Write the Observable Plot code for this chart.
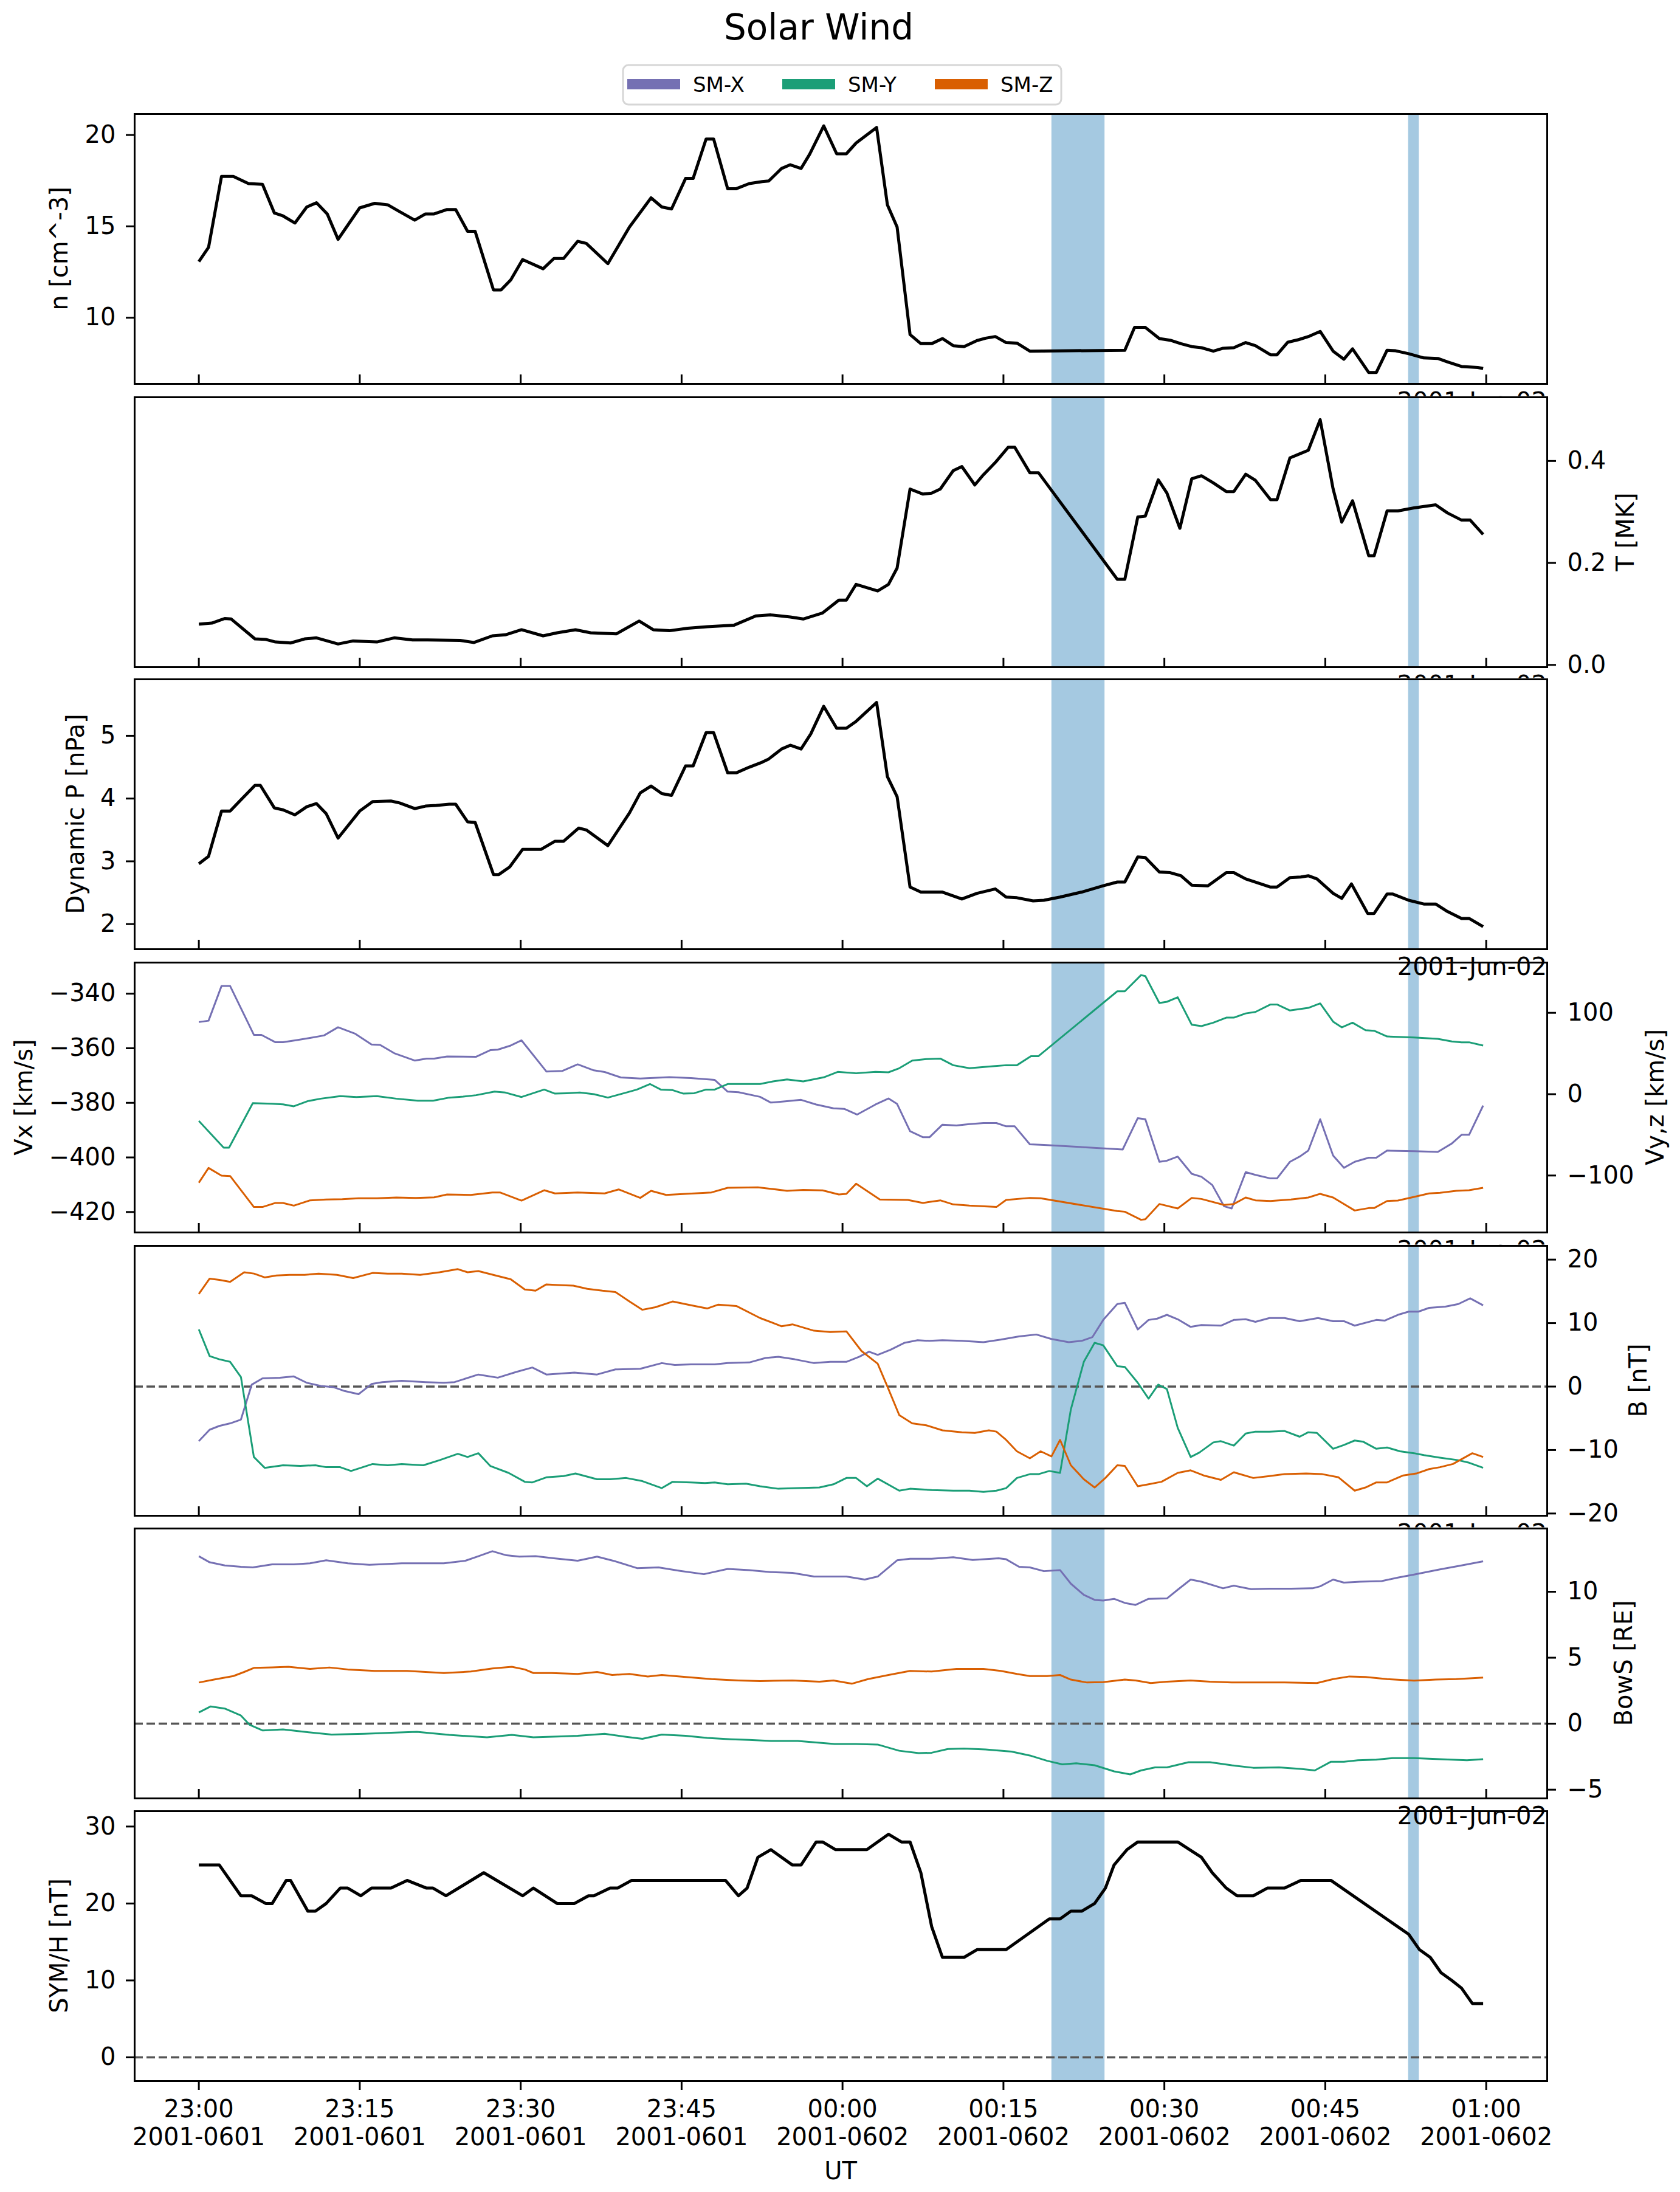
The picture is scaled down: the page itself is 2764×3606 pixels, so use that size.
<!DOCTYPE html>
<html>
<head>
<meta charset="utf-8">
<script src="https://cdn.jsdelivr.net/npm/d3@7"></script>
<script src="https://cdn.jsdelivr.net/npm/@observablehq/plot@0.6"></script>
<style>
  body { margin: 0; background: #fff; }
  #wrap { position: relative; width: 2764px; height: 3606px; background: #fff; font-family: "DejaVu Sans", sans-serif; }
  #wrap svg { position: absolute; left: 0; overflow: visible; max-width: none; }
</style>
</head>
<body>
<div id="wrap"></div>
<script>
// ---------------- DATA (minutes after 2001-06-01 23:00 UT as read, value) ----------------
const xTickMinutes = [0, 15, 30, 45, 60, 75, 90, 105, 120];
const xTickTimeLabels = ["23:00", "23:15", "23:30", "23:45", "00:00", "00:15", "00:30", "00:45", "01:00"];
const xTickDayLabels = ["2001-0601", "2001-0601", "2001-0601", "2001-0601", "2001-0602", "2001-0602", "2001-0602", "2001-0602", "2001-0602"];
const shadedSpans = [[79.5, 84.45], [112.75, 113.75]];
const componentNames = ["SM-X", "SM-Y", "SM-Z"];
const offsetLabel = "2001-Jun-02";

const densityPts = [[0,13.07],[0.9,13.85],[2.1,17.73],[3.2,17.73],[4.6,17.34],[5.9,17.3],[7.0,15.73],[7.8,15.57],[8.9,15.18],[10,16.06],[10.9,16.29],[11.9,15.68],[12.9,14.29],[14.9,16.01],[16.3,16.26],[17.5,16.18],[18.5,15.84],[20,15.34],[21,15.68],[21.8,15.68],[23,15.92],[23.8,15.92],[24.9,14.73],[25.6,14.73],[27.3,11.52],[28,11.52],[28.9,12.07],[30,13.18],[31.9,12.68],[32.9,13.24],[33.8,13.24],[35.1,14.18],[35.9,14.07],[37.9,12.96],[39.9,14.96],[41.9,16.56],[42.9,16.06],[43.8,15.95],[45.1,17.62],[45.8,17.62],[47,19.78],[47.7,19.78],[49,17.06],[49.8,17.06],[51,17.34],[52.2,17.45],[52.8,17.48],[54,18.17],[54.8,18.37],[55.8,18.17],[56.6,18.95],[57.9,20.5],[59.1,18.97],[60,18.97],[60.9,19.56],[62.8,20.41],[63.8,16.18],[64.7,14.96],[65.9,9.08],[66.9,8.58],[67.9,8.58],[68.9,8.86],[69.9,8.47],[70.9,8.42],[72.1,8.75],[72.9,8.88],[73.8,8.97],[74.8,8.64],[75.8,8.61],[77,8.17],[85.8,8.22],[86.7,9.47],[87.7,9.47],[89,8.86],[90,8.77],[91,8.58],[92,8.42],[92.9,8.36],[94,8.17],[94.9,8.33],[95.9,8.36],[97,8.64],[97.9,8.47],[99.3,7.97],[99.9,7.97],[100.9,8.66],[101.9,8.8],[102.9,8.99],[103.9,9.25],[105.1,8.17],[106.1,7.73],[106.9,8.3],[108.4,7.0],[109.1,7.0],[110.1,8.22],[110.9,8.19],[112.1,8.03],[113.5,7.8],[114.8,7.77],[115.7,7.58],[117,7.33],[118.5,7.28],[119,7.22]];

const tempPts = [[0,0.080],[1.2,0.082],[2.4,0.091],[3.0,0.090],[5.2,0.051],[6.2,0.050],[7.1,0.045],[8.5,0.043],[9.8,0.051],[10.9,0.053],[12.9,0.041],[14.3,0.047],[16.5,0.045],[18.1,0.053],[19.8,0.049],[21.2,0.049],[24.2,0.048],[25.5,0.044],[27.2,0.057],[28.4,0.059],[29.9,0.069],[31.9,0.057],[33.2,0.063],[34.9,0.069],[36.3,0.063],[38.7,0.061],[40.8,0.086],[42.1,0.069],[43.6,0.067],[45.3,0.072],[47.1,0.075],[49.6,0.078],[51.6,0.096],[53.0,0.098],[54.8,0.094],[56.0,0.090],[57.8,0.102],[59.3,0.127],[60.0,0.127],[60.9,0.158],[62.9,0.145],[63.9,0.158],[64.7,0.190],[65.9,0.345],[67.1,0.335],[67.9,0.337],[68.7,0.345],[69.9,0.381],[70.7,0.389],[71.9,0.353],[72.7,0.373],[73.8,0.397],[75.0,0.427],[75.6,0.427],[77.0,0.377],[77.8,0.377],[85.1,0.168],[85.8,0.168],[87.0,0.290],[87.7,0.292],[88.9,0.363],[89.7,0.337],[90.9,0.268],[92.0,0.365],[92.9,0.371],[94.0,0.357],[95.2,0.340],[95.9,0.340],[97.0,0.374],[97.9,0.362],[99.3,0.324],[99.9,0.324],[101.1,0.406],[101.9,0.413],[102.8,0.421],[103.9,0.481],[105.1,0.345],[105.9,0.280],[106.9,0.322],[108.4,0.214],[108.9,0.214],[110.1,0.302],[111.1,0.302],[112.6,0.308],[114.6,0.314],[115.7,0.298],[117.0,0.284],[117.8,0.284],[119.0,0.256]];

const pressurePts = [[0,2.96],[0.9,3.08],[2.1,3.80],[2.9,3.80],[3.9,3.98],[5.2,4.21],[5.7,4.21],[7.0,3.85],[7.8,3.82],[8.9,3.74],[10.0,3.87],[10.9,3.92],[11.8,3.76],[12.9,3.37],[14.9,3.80],[16.1,3.95],[17.8,3.96],[18.6,3.93],[20.0,3.84],[21.0,3.88],[22.0,3.89],[23.2,3.91],[23.8,3.91],[24.9,3.63],[25.6,3.62],[27.3,2.79],[27.8,2.79],[28.8,2.91],[30.0,3.19],[31.7,3.19],[33.0,3.32],[33.8,3.32],[35.2,3.53],[35.9,3.50],[37.9,3.25],[39.9,3.77],[40.9,4.09],[41.9,4.20],[42.9,4.08],[43.8,4.05],[45.1,4.52],[45.8,4.52],[47.0,5.05],[47.7,5.05],[49.0,4.41],[49.8,4.41],[51.0,4.50],[52.2,4.58],[52.8,4.63],[54.0,4.79],[54.8,4.85],[55.8,4.79],[56.7,5.03],[57.9,5.47],[59.1,5.12],[60.0,5.12],[60.9,5.23],[62.8,5.53],[63.8,4.35],[64.7,4.03],[65.9,2.59],[66.9,2.51],[68.9,2.51],[70.7,2.40],[72.1,2.49],[73.8,2.56],[74.8,2.43],[75.8,2.42],[77.3,2.37],[78.3,2.38],[79.8,2.43],[81.8,2.51],[83.8,2.61],[85.1,2.67],[85.8,2.67],[87.0,3.07],[87.7,3.06],[89.0,2.83],[90.0,2.82],[91.0,2.77],[92.0,2.62],[93.5,2.61],[95.2,2.82],[95.9,2.82],[97.0,2.72],[97.9,2.67],[99.3,2.59],[99.9,2.59],[101.1,2.74],[102.1,2.75],[102.8,2.77],[103.6,2.72],[105.1,2.49],[105.9,2.41],[106.8,2.64],[108.3,2.17],[108.9,2.17],[110.1,2.48],[110.6,2.48],[112.1,2.38],[113.5,2.32],[114.6,2.32],[115.7,2.20],[117.0,2.09],[117.7,2.09],[119.0,1.96]];

const vxPts = [[0,-350.4],[0.9,-349.9],[2.1,-337.2],[2.9,-337.2],[5.1,-355.1],[5.8,-355.1],[7.1,-357.8],[7.8,-357.8],[9.1,-357.0],[10.3,-356.2],[11.6,-355.3],[12.9,-352.3],[14.5,-354.7],[16.0,-358.6],[16.8,-358.8],[18.1,-361.8],[20.0,-364.5],[21.1,-363.8],[21.8,-363.8],[23.0,-363.0],[25.7,-363.1],[27.0,-360.7],[27.7,-360.5],[28.9,-359.0],[29.9,-357.1],[32.2,-368.5],[33.7,-368.3],[35.1,-365.9],[36.6,-368.1],[37.6,-368.7],[39.1,-370.7],[40.9,-371.1],[43.6,-370.6],[45.6,-370.9],[47.8,-371.6],[49.0,-375.9],[50.0,-376.1],[52.0,-377.8],[53.0,-379.9],[54.5,-379.4],[55.8,-378.9],[57.2,-380.6],[58.8,-382.0],[59.8,-382.2],[61.0,-384.3],[62.7,-380.6],[63.9,-378.4],[64.7,-380.4],[65.9,-390.4],[67.1,-392.6],[67.7,-392.6],[68.9,-388.0],[70.2,-388.3],[71.4,-387.8],[72.7,-387.4],[73.9,-387.4],[74.8,-388.6],[75.6,-388.6],[77.0,-395.2],[78.3,-395.4],[85.6,-397.1],[87.0,-385.6],[87.7,-386.0],[89.0,-401.6],[89.7,-401.2],[90.7,-399.7],[92.0,-406.0],[92.9,-407.1],[93.9,-410.1],[95.0,-417.9],[95.7,-418.7],[97.0,-405.4],[97.9,-406.4],[99.3,-407.7],[99.9,-407.7],[101.1,-401.6],[102.0,-399.7],[102.8,-397.5],[103.9,-386.0],[105.1,-399.3],[106.1,-403.8],[107.1,-401.6],[108.4,-400.1],[109.1,-400.1],[110.1,-397.5],[112.6,-397.7],[114.8,-398.0],[116.1,-394.9],[117.0,-391.7],[117.7,-391.7],[119.0,-381.0]];

const vyPts = [[0,-32.9],[2.3,-65.8],[2.8,-65.8],[5.0,-11.0],[6.8,-11.7],[7.8,-12.5],[8.8,-14.9],[10.1,-8.5],[11.3,-5.5],[13.1,-2.5],[14.6,-3.5],[16.5,-2.5],[18.3,-5.5],[20.3,-8.0],[21.7,-8.0],[23.2,-4.2],[24.5,-3.0],[25.7,-1.2],[27.4,3.2],[28.4,2.0],[29.9,-3.5],[32.0,5.7],[33.0,0.7],[34.1,1.2],[35.3,2.0],[36.6,0],[37.9,-4.2],[39.6,2.0],[40.6,5.7],[41.8,12.5],[42.8,5.7],[43.9,5.0],[44.9,0.7],[45.9,1.2],[47.0,5.7],[47.8,5.7],[49.0,12.5],[52.0,12.5],[53.2,15.7],[54.5,18.2],[56.0,15.7],[57.9,20.7],[59.2,27.4],[60.9,25.7],[62.7,27.4],[63.9,26.9],[64.9,31.9],[66.1,41.3],[67.4,43.1],[68.7,43.8],[69.9,35.6],[71.4,31.9],[73.6,34.4],[74.8,35.6],[75.8,35.6],[77.1,46.8],[77.8,46.8],[85.1,126.5],[85.8,126.5],[87.3,146.4],[87.7,145.2],[89.0,112.1],[89.7,113.6],[90.7,119.1],[92.0,85.4],[92.9,83.7],[94.0,87.9],[95.2,94.1],[95.9,94.1],[97.0,99.3],[97.9,101.1],[99.3,110.3],[99.9,110.3],[101.1,102.9],[102.0,104.6],[102.8,106.1],[103.9,111.6],[105.1,89.2],[105.9,82.2],[106.9,87.9],[108.1,78.7],[108.9,78.0],[110.1,71.0],[112.6,69.7],[114.8,68.0],[116.1,64.8],[117.0,63.8],[117.7,63.8],[119.0,59.8]];

const vzPts = [[0,-108.8],[0.9,-90.7],[2.1,-100.1],[2.9,-100.6],[5.1,-138.7],[5.9,-138.7],[7.1,-133.7],[7.8,-133.7],[8.8,-137.0],[10.3,-130.5],[11.8,-129.5],[13.3,-129.0],[14.8,-128.0],[16.5,-128.0],[18.3,-127.0],[20.1,-127.5],[21.8,-126.8],[23.0,-123.3],[25.2,-123.8],[27.2,-120.8],[27.9,-120.8],[29.9,-130.8],[32.0,-118.1],[33.0,-122.0],[35.1,-120.8],[37.6,-122.0],[38.9,-117.1],[40.9,-127.5],[41.9,-118.8],[43.3,-123.8],[45.1,-122.5],[47.5,-120.8],[49.0,-115.1],[51.8,-114.6],[53.0,-116.3],[54.5,-118.8],[56.0,-117.6],[57.8,-118.3],[59.3,-123.3],[60.0,-122.5],[60.9,-110.1],[63.1,-129.5],[65.7,-130.0],[67.1,-133.7],[68.7,-130.5],[69.9,-135.5],[71.4,-137.0],[73.9,-138.7],[74.8,-130.0],[77.0,-127.5],[78.0,-128.0],[85.1,-143.7],[85.8,-144.5],[87.3,-154.4],[87.7,-153.7],[89.0,-135.0],[90.7,-140.5],[92.0,-127.5],[92.9,-128.8],[95.0,-136.2],[95.9,-135.0],[97.0,-127.0],[97.9,-130.5],[99.3,-131.3],[101.2,-129.5],[102.8,-127.0],[103.9,-122.5],[105.1,-127.0],[107.1,-143.0],[108.4,-140.0],[108.9,-140.0],[110.1,-131.3],[111.1,-130.8],[112.6,-126.3],[114.0,-122.0],[115.0,-121.3],[116.5,-118.8],[117.7,-118.1],[119.0,-115.1]];

const bxPts = [[0,-8.6],[1.0,-6.8],[1.9,-6.2],[2.9,-5.8],[3.9,-5.2],[4.9,0.3],[5.9,1.3],[7.5,1.4],[8.8,1.6],[10.0,0.6],[11.3,0.1],[12.5,-0.1],[13.5,-0.7],[14.8,-1.2],[16.0,0.4],[17.0,0.7],[18.8,0.9],[21.0,0.7],[22.7,0.6],[23.7,0.7],[25.9,1.9],[27.7,1.4],[29.4,2.3],[30.9,3.0],[32.2,1.9],[33.2,2.0],[34.8,2.2],[36.9,1.9],[38.6,2.7],[40.9,2.8],[42.9,3.7],[44.1,3.4],[45.6,3.5],[47.8,3.5],[49.0,3.7],[51.0,3.8],[52.5,4.5],[53.7,4.7],[55.2,4.3],[57.0,3.7],[58.5,3.9],[60.0,3.9],[61.2,4.7],[62.1,5.5],[62.9,5.0],[64.1,5.8],[65.4,6.9],[66.6,7.3],[67.7,7.2],[68.9,7.3],[70.7,7.2],[72.7,7.0],[74.3,7.4],[76.0,7.9],[77.6,8.2],[79.0,7.5],[80.6,7.0],[81.8,7.2],[82.8,7.8],[83.8,10.5],[85.1,13.0],[85.8,13.2],[87.0,9.0],[88.0,10.5],[88.8,10.7],[89.7,11.3],[90.7,10.6],[91.9,9.4],[92.9,9.7],[94.7,9.6],[95.9,10.5],[97.0,10.6],[97.9,10.2],[99.2,10.8],[100.6,10.8],[102.0,10.3],[103.7,10.8],[105.1,10.3],[106.1,10.3],[107.1,9.6],[109.1,10.5],[109.9,10.4],[111.1,11.3],[112.1,11.8],[113.0,11.8],[114.0,12.4],[115.5,12.6],[116.7,13.0],[117.8,13.9],[119.0,12.8]];

const byPts = [[0,9.0],[1.0,4.8],[1.9,4.3],[2.9,3.9],[3.9,1.5],[5.1,-11.1],[6.1,-12.8],[7.8,-12.4],[9.4,-12.5],[10.8,-12.4],[11.8,-12.7],[13.1,-12.7],[14.1,-13.3],[16.1,-12.2],[17.5,-12.4],[18.8,-12.2],[20.8,-12.4],[22.3,-11.6],[24.0,-10.6],[24.9,-11.1],[25.9,-10.5],[27.0,-12.5],[28.7,-13.6],[30.2,-15.0],[30.9,-15.1],[32.2,-14.3],[33.8,-14.1],[34.9,-13.7],[36.9,-14.6],[38.1,-14.6],[39.6,-14.4],[41.1,-14.9],[42.9,-16.0],[43.9,-15.0],[45.6,-15.1],[46.9,-15.2],[47.8,-15.1],[49.0,-15.4],[50.7,-15.3],[52.0,-15.7],[53.7,-16.1],[55.5,-16.0],[57.5,-15.9],[58.8,-15.4],[60.0,-14.4],[60.9,-14.4],[61.9,-15.7],[62.9,-14.5],[64.9,-16.4],[65.9,-16.1],[67.9,-16.3],[69.9,-16.4],[71.4,-16.4],[72.7,-16.6],[73.9,-16.4],[74.8,-16.0],[75.8,-14.4],[77.0,-13.8],[77.8,-13.8],[78.8,-13.3],[79.8,-13.6],[80.8,-3.6],[82.0,3.9],[83.0,6.9],[83.8,6.5],[85.1,3.2],[85.8,3.1],[87.0,0.6],[88.0,-1.9],[88.9,0.3],[89.7,-0.4],[90.7,-6.5],[91.9,-11.1],[92.7,-10.4],[94.0,-8.8],[94.7,-8.6],[95.9,-9.3],[97.0,-7.4],[97.9,-7.1],[99.2,-7.1],[100.6,-7.0],[102.0,-7.9],[102.8,-7.2],[103.6,-7.3],[105.1,-9.8],[106.1,-9.2],[107.1,-8.5],[107.9,-8.7],[109.1,-9.8],[110.1,-9.6],[111.3,-10.2],[112.6,-10.5],[113.5,-10.8],[115.0,-11.2],[116.7,-11.6],[117.7,-12.0],[119.0,-12.8]];

const bzPts = [[0,14.6],[1.0,17.0],[1.9,16.8],[2.9,16.5],[4.2,18.0],[5.1,17.8],[6.1,17.2],[7.2,17.5],[8.4,17.6],[9.8,17.6],[11.1,17.8],[12.8,17.6],[14.3,17.1],[16.1,17.9],[17.5,17.8],[18.8,17.8],[20.5,17.6],[22.3,18.0],[24.0,18.5],[24.9,18.0],[25.9,18.2],[27.5,17.5],[28.9,16.9],[30.2,15.3],[31.2,15.1],[32.2,16.1],[33.3,16.0],[34.7,15.9],[36.0,15.4],[37.4,15.1],[38.6,14.9],[39.9,13.4],[41.1,12.1],[42.3,12.5],[43.9,13.4],[45.6,12.8],[47.1,12.3],[48.1,12.9],[49.8,12.7],[52.0,10.8],[54.0,9.5],[55.0,9.8],[57.0,8.8],[58.5,8.6],[60.0,8.7],[61.4,5.6],[62.9,3.6],[63.9,-0.4],[64.9,-4.5],[66.1,-5.8],[67.4,-6.1],[68.9,-6.9],[70.7,-7.2],[71.9,-7.3],[73.2,-6.9],[73.9,-7.1],[74.8,-8.4],[75.8,-10.2],[77.0,-11.3],[78.0,-10.2],[79.0,-11.0],[79.8,-8.4],[80.8,-12.4],[82.0,-14.6],[83.0,-15.9],[84.0,-14.4],[85.1,-12.4],[85.8,-12.5],[87.0,-15.7],[88.0,-15.4],[89.2,-15.0],[90.7,-13.6],[91.9,-13.2],[93.1,-14.0],[94.7,-14.7],[95.9,-13.5],[97.7,-14.4],[99.2,-14.1],[100.6,-13.8],[102.6,-13.7],[104.1,-13.8],[105.6,-14.3],[107.1,-16.4],[108.1,-15.9],[109.1,-15.1],[110.1,-15.1],[111.6,-14.0],[112.8,-13.7],[114.0,-13.0],[115.0,-12.7],[116.2,-12.2],[118.0,-10.5],[119.0,-11.1]];

const bowXPts = [[0,12.69],[1.0,12.23],[2.4,11.99],[3.9,11.89],[5.0,11.84],[6.8,12.07],[8.8,12.07],[10.3,12.15],[11.8,12.38],[13.8,12.15],[15.8,12.04],[18.8,12.15],[22.7,12.15],[24.7,12.35],[25.9,12.69],[27.2,13.07],[28.5,12.76],[29.7,12.66],[31.2,12.69],[32.9,12.53],[35.1,12.35],[36.9,12.66],[38.6,12.30],[40.6,11.79],[42.6,11.84],[44.6,11.58],[46.8,11.33],[49.0,11.73],[51.0,11.64],[53.0,11.49],[55.0,11.43],[57.0,11.15],[60.0,11.15],[61.7,10.92],[62.9,11.15],[64.7,12.38],[65.9,12.50],[67.9,12.50],[69.9,12.61],[71.7,12.41],[74.1,12.53],[74.8,12.46],[76.0,11.89],[77.0,11.84],[78.3,11.56],[79.8,11.64],[80.8,10.61],[82.0,9.76],[83.0,9.38],[83.8,9.33],[84.8,9.46],[85.8,9.15],[86.8,9.00],[88.0,9.46],[89.7,9.49],[90.7,10.15],[91.9,10.92],[92.9,10.76],[94.9,10.26],[95.9,10.46],[97.5,10.20],[99.2,10.23],[101.2,10.23],[103.2,10.26],[103.9,10.41],[105.1,10.92],[106.1,10.69],[107.6,10.76],[109.6,10.81],[111.1,11.07],[112.6,11.30],[115.0,11.69],[117.0,11.99],[119.0,12.30]];

const bowYPts = [[0,0.85],[1.1,1.31],[2.4,1.15],[3.9,0.62],[4.7,-0.08],[5.9,-0.51],[7.8,-0.43],[9.8,-0.62],[12.3,-0.82],[15.3,-0.77],[17.8,-0.69],[20.2,-0.62],[23.2,-0.85],[26.7,-1.03],[29.0,-0.85],[31.0,-1.03],[33.2,-0.97],[35.1,-0.92],[37.6,-0.77],[39.6,-1.00],[41.1,-1.15],[42.9,-0.82],[45.1,-0.92],[47.1,-1.08],[49.3,-1.18],[51.0,-1.23],[53.0,-1.31],[55.5,-1.31],[58.9,-1.54],[60.9,-1.54],[62.9,-1.58],[64.9,-2.05],[66.7,-2.23],[67.9,-2.20],[69.4,-1.92],[70.9,-1.88],[72.9,-1.95],[75.3,-2.11],[77.0,-2.41],[78.6,-2.81],[80.0,-3.08],[81.3,-3.00],[83.0,-3.15],[84.8,-3.61],[86.3,-3.84],[87.3,-3.54],[88.6,-3.31],[89.7,-3.31],[91.7,-2.92],[93.7,-2.92],[95.7,-3.15],[97.7,-3.34],[100.1,-3.31],[102.1,-3.43],[103.4,-3.54],[104.9,-2.88],[106.1,-2.88],[107.4,-2.77],[109.1,-2.72],[110.6,-2.61],[112.6,-2.61],[115.0,-2.69],[117.5,-2.77],[119.0,-2.69]];

const bowZPts = [[0,3.12],[1.4,3.34],[3.2,3.61],[4.2,3.92],[5.1,4.23],[6.8,4.26],[8.3,4.31],[10.3,4.15],[12.1,4.26],[13.8,4.11],[16.3,4.00],[19.3,4.00],[22.7,3.84],[25.2,3.95],[27.2,4.18],[29.0,4.31],[30.2,4.11],[31.0,3.84],[32.7,3.84],[35.1,3.77],[36.9,3.92],[38.3,3.69],[39.9,3.77],[41.6,3.57],[42.9,3.69],[45.1,3.54],[47.5,3.38],[50.0,3.28],[52.0,3.23],[55.0,3.28],[57.5,3.18],[58.8,3.28],[60.5,3.03],[62.0,3.38],[63.9,3.69],[65.9,4.00],[67.9,3.95],[70.2,4.15],[72.7,4.15],[74.3,4.00],[75.8,3.77],[77.0,3.61],[78.6,3.61],[79.8,3.69],[80.8,3.34],[82.3,3.12],[83.8,3.15],[85.8,3.34],[86.8,3.28],[88.2,3.08],[89.7,3.18],[91.9,3.28],[93.7,3.18],[95.7,3.12],[98.2,3.12],[100.6,3.12],[103.6,3.08],[105.1,3.38],[106.6,3.58],[108.1,3.54],[110.1,3.38],[112.6,3.26],[114.6,3.34],[116.5,3.38],[119.0,3.49]];

const symhPts = [[0,25],[1.9,25],[3.9,21],[4.9,21],[6.2,20],[6.8,20],[8.1,23],[8.5,23],[10.1,19],[10.8,19],[11.8,20],[13.1,22],[13.8,22],[15.0,21],[16.0,22],[17.8,22],[19.3,23],[21.1,22],[21.7,22],[22.9,21],[26.4,24],[30.0,21],[31.0,22],[33.2,20],[34.8,20],[36.1,21],[36.6,21],[38.1,22],[38.8,22],[40.1,23],[48.8,23],[50.0,21],[50.8,22],[51.8,26],[53.0,27],[55.0,25],[55.8,25],[57.2,28],[57.8,28],[59.0,27],[61.9,27],[63.9,29],[65.1,28],[65.9,28],[66.9,24],[67.9,17],[68.9,13],[70.9,13],[72.1,14],[74.8,14],[78.8,18],[79.8,18],[80.8,19],[81.8,19],[83.0,20],[84.0,22],[84.8,25],[86.0,27],[87.0,28],[90.7,28],[92.9,26],[93.9,24],[95.2,22],[96.2,21],[97.7,21],[99.0,22],[100.6,22],[102.1,23],[104.9,23],[112.1,16],[113.1,14],[114.1,13],[115.1,11],[116.1,10],[117.0,9],[118.0,7],[119.0,7]];

const nTicks = [10, 15, 20];
const tTicks = [0, 0.2, 0.4];
const pTicks = [2, 3, 4, 5];
const vxTicks = [-420, -400, -380, -360, -340];
const vyzTicks = [-100, 0, 100];
const bTicks = [-20, -10, 0, 10, 20];
const bowTicks = [-5, 0, 5, 10];
const symhTicks = [0, 10, 20, 30];

// ---------------- STYLE / LAYOUT ----------------
const COLORS = {x: "#7570b3", y: "#1b9e77", z: "#d95f02", black: "#000000", shade: "#1f77b4", dash: "#555555"};
const FONT = "DejaVu Sans";
const W = 2764, H = 3606;
const frameL = 221, frameR = 2545;
const panelH = 444;
const panelTops = [187, 653, 1117, 1583, 2049, 2514, 2979];
const pad = 20;
// the series times were read off a magnified crop whose horizontal scale ran
// slightly long; this factor restores them to true minutes
const readingCalibration = 1.006;

const base = Date.UTC(2001, 5, 1, 23, 0, 0);
const toDate = m => new Date(base + m * 60000);
const xDomain = [toDate(-5.985), toDate(125.685)];
const xTickDates = xTickMinutes.map(toDate);
const timeLabelOf = new Map(xTickDates.map((d, i) => [+d, xTickTimeLabels[i]]));
const dayLabelOf = new Map(xTickDates.map((d, i) => [+d, xTickDayLabels[i]]));
const spans = shadedSpans.map(([a, b]) => ({x1: toDate(a), x2: toDate(b)}));
const rows = pts => pts.map(([m, v]) => ({t: toDate(m * readingCalibration), v}));
const fmtInt = d => (d < 0 ? "\u2212" : "") + Math.abs(d);
const fmtOne = d => (d < 0 ? "\u2212" : "") + Math.abs(d).toFixed(1);

const wrap = document.getElementById("wrap");

function makePanel(idx, spec) {
  const top = panelTops[idx];
  const isLast = idx === 6;
  const mb = isLast ? 200 : pad;
  const marks = [];
  if (spec.shade) {
    marks.push(Plot.rect(spans, {x1: "x1", x2: "x2", y1: () => spec.domain[0], y2: () => spec.domain[1], fill: COLORS.shade, fillOpacity: 0.4}));
  }
  if (spec.zero) {
    marks.push(Plot.ruleY([0], {stroke: COLORS.dash, strokeWidth: 3.5, strokeDasharray: "14,6"}));
  }
  for (const ln of spec.lines) {
    marks.push(Plot.line(rows(ln.pts), {x: "t", y: "v", stroke: ln.color, strokeWidth: ln.w, strokeLinejoin: "round", strokeLinecap: "butt"}));
  }
  if (spec.frame) {
    if (!isLast) marks.push(Plot.tickX(xTickDates, {x: d => d, stroke: "black", strokeWidth: 3, insetTop: panelH - 15}));
    marks.push(Plot.frame({stroke: "black", strokeWidth: 3}));
  }
  marks.push(Plot.axisY(spec.ticks, {anchor: spec.side, tickSize: 14, tickPadding: spec.side === "left" ? 17 : 19, strokeWidth: 3, fontSize: 40, tickFormat: spec.fmt || fmtInt, label: null}));
  if (isLast) {
    marks.push(Plot.axisX(xTickDates, {anchor: "bottom", tickSize: 15, tickPadding: 16, strokeWidth: 3, fontSize: 40, tickFormat: d => timeLabelOf.get(+d), label: null}));
    marks.push(Plot.axisX(xTickDates, {anchor: "bottom", tickSize: 0, tickPadding: 77, fontSize: 40, tickFormat: d => dayLabelOf.get(+d), label: null}));
  }
  const svg = Plot.plot({
    width: W,
    height: panelH + pad + mb,
    marginLeft: frameL,
    marginRight: W - frameR,
    marginTop: pad,
    marginBottom: mb,
    style: {fontFamily: FONT, fontSize: "40px", background: "transparent", overflow: "visible", color: "black"},
    x: isLast ? {type: "utc", domain: xDomain} : {type: "utc", domain: xDomain, axis: null},
    y: {domain: spec.domain},
    marks
  });
  svg.style.position = "absolute";
  svg.style.left = "0px";
  svg.style.top = (top - pad) + "px";
  wrap.appendChild(svg);
}

const specs = [
  [0, {side: "left", domain: [6.38, 21.15], ticks: nTicks, shade: true, frame: true, lines: [{pts: densityPts, color: COLORS.black, w: 5}]}],
  [1, {side: "right", domain: [-0.0044, 0.525], ticks: tTicks, fmt: fmtOne, shade: true, frame: true, lines: [{pts: tempPts, color: COLORS.black, w: 5}]}],
  [2, {side: "left", domain: [1.60, 5.90], ticks: pTicks, shade: true, frame: true, lines: [{pts: pressurePts, color: COLORS.black, w: 5}]}],
  [3, {side: "left", domain: [-427.5, -328.6], ticks: vxTicks, shade: true, frame: true, lines: [{pts: vxPts, color: COLORS.x, w: 3}]}],
  [3, {side: "right", domain: [-170, 161.8], ticks: vyzTicks, shade: false, frame: false, lines: [{pts: vyPts, color: COLORS.y, w: 3}, {pts: vzPts, color: COLORS.z, w: 3}]}],
  [4, {side: "right", domain: [-20.35, 22.17], ticks: bTicks, shade: true, frame: true, zero: true, lines: [{pts: bxPts, color: COLORS.x, w: 3}, {pts: byPts, color: COLORS.y, w: 3}, {pts: bzPts, color: COLORS.z, w: 3}]}],
  [5, {side: "right", domain: [-5.66, 14.79], ticks: bowTicks, shade: true, frame: true, zero: true, lines: [{pts: bowXPts, color: COLORS.x, w: 3}, {pts: bowYPts, color: COLORS.y, w: 3}, {pts: bowZPts, color: COLORS.z, w: 3}]}],
  [6, {side: "left", domain: [-3.08, 32.0], ticks: symhTicks, shade: true, frame: true, zero: true, lines: [{pts: symhPts, color: COLORS.black, w: 5}]}]
];
for (const [i, s] of specs) makePanel(i, s);

// ---------------- ANNOTATIONS (title, legend, axis labels) ----------------
const ov = d3.create("svg").attr("width", W).attr("height", H)
  .style("position", "absolute").style("left", "0px").style("top", "0px")
  .style("pointer-events", "none").attr("font-family", FONT);

ov.append("text").attr("x", 1347).attr("y", 65).attr("text-anchor", "middle")
  .attr("font-size", 58).text("Solar Wind");

// legend
const lg = ov.append("g");
lg.append("rect").attr("x", 1025).attr("y", 107).attr("width", 721).attr("height", 65)
  .attr("rx", 9).attr("fill", "white").attr("stroke", "#d6d6d6").attr("stroke-width", 3);
const legendX = [1032, 1287, 1538];
const legendColors = [COLORS.x, COLORS.y, COLORS.z];
componentNames.forEach((name, i) => {
  lg.append("rect").attr("x", legendX[i]).attr("y", 130).attr("width", 87).attr("height", 17).attr("fill", legendColors[i]);
  lg.append("text").attr("x", legendX[i] + 108).attr("y", 151).attr("font-size", 34).text(name);
});

// y labels
const yLabels = [
  {text: "n [cm^-3]", x: 111, panel: 0},
  {text: "T [MK]", x: 2688, panel: 1},
  {text: "Dynamic P [nPa]", x: 138, panel: 2},
  {text: "Vx [km/s]", x: 53, panel: 3},
  {text: "Vy,z [km/s]", x: 2737, panel: 3},
  {text: "B [nT]", x: 2709, panel: 4},
  {text: "BowS [RE]", x: 2685, panel: 5},
  {text: "SYM/H [nT]", x: 111, panel: 6}
];
for (const l of yLabels) {
  const cy = panelTops[l.panel] + panelH / 2;
  ov.append("text").attr("transform", `translate(${l.x},${cy}) rotate(-90)`)
    .attr("text-anchor", "middle").attr("font-size", 40).text(l.text);
}

ov.append("text").attr("x", (frameL + frameR) / 2).attr("y", 3585).attr("text-anchor", "middle")
  .attr("font-size", 40).text("UT");

// date offset labels below panels 1-6 (some hidden under the next panel)
const defs = ov.append("defs");
const offsetClipped = [true, true, false, true, true, false];
for (let i = 0; i < 6; i++) {
  const bottom = panelTops[i] + panelH;
  const t = ov.append("text").attr("x", frameR).attr("y", bottom + 43).attr("text-anchor", "end")
    .attr("font-size", 40).text(offsetLabel);
  if (offsetClipped[i]) {
    const id = "clipoff" + i;
    defs.append("clipPath").attr("id", id).append("rect")
      .attr("x", 0).attr("y", bottom + 2).attr("width", W).attr("height", panelTops[i + 1] - bottom - 3.5);
    t.attr("clip-path", `url(#${id})`);
  }
}
wrap.appendChild(ov.node());
</script>
</body>
</html>
